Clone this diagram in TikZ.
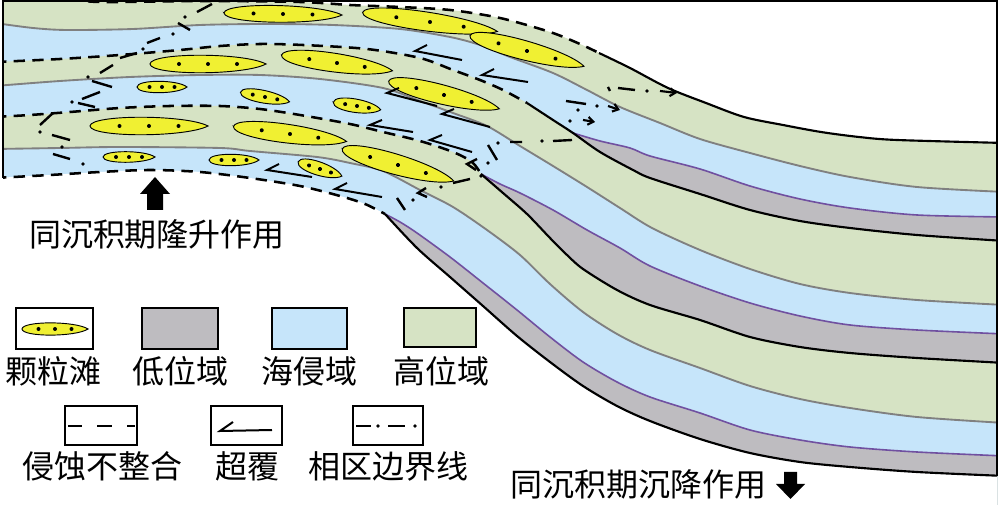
\documentclass[tikz,border=0pt]{standalone}
\usepackage{fontspec}
\newfontfamily\cjk{Noto Sans CJK SC}
\usetikzlibrary{arrows.meta}
\definecolor{hstc}{RGB}{214,227,196}
\definecolor{tstc}{RGB}{198,229,250}
\definecolor{lstc}{RGB}{190,188,192}
\definecolor{shoalc}{RGB}{240,240,50}
\definecolor{tsline}{RGB}{112,80,160}
\definecolor{mfsline}{RGB}{128,128,128}
% top surface
\def\pTa{plot[smooth] coordinates {(-5,-5) (60,-2) (100,2) (200,1) (300,2) (350,5) (400,7) (450,10) (500,18) (550,32) (580,44) (599,53)}}
\def\pTb{-- plot[smooth] coordinates {(599,53) (630,68) (668,88) (706,103) (744,117) (783,125) (821,132) (859,137) (897,140) (1005,143)}}
% mfs lines
\def\pGc{plot[smooth] coordinates {(-5,23) (33,28) (67,30) (133,29) (200,25) (267,24) (333,25) (400,29) (450,37) (480,45) (510,57) (553,73) (587,90) (620,107) (660,123) (700,139) (750,153) (800,166) (850,177) (917,187) (1005,192)}}
\def\pGb{plot[smooth] coordinates {(-5,86) (60,81) (130,77) (200,75) (260,75) (320,79) (383,88) (420,101) (453,113) (487,126) (520,146) (553,166) (587,187) (620,208) (652,228) (700,250) (750,269) (800,284) (850,293) (917,300) (1005,305)}}
\def\pGa{plot[smooth] coordinates {(-5,149) (60,148) (120,147) (220,148) (250,151) (317,157) (350,163) (383,171) (420,190) (453,207) (487,230) (520,255) (550,284) (583,312) (617,334) (650,350) (700,368) (750,386) (800,399) (850,408) (917,417) (1005,423)}}
% transgressive surfaces
\def\pPc{plot[smooth] coordinates {(573,133) (600,141) (630,148) (650,156) (700,169) (750,186) (800,199) (850,208) (917,215) (1005,217)}}
\def\pPb{plot[smooth] coordinates {(481,174) (500,184) (520,193) (553,210) (587,230) (620,248) (650,266) (700,286) (750,303) (800,316) (850,325) (917,330) (1005,334)}}
\def\pPa{plot[smooth] coordinates {(385,214) (400,222) (417,233) (450,257) (483,283) (517,310) (550,337) (583,362) (617,382) (650,397) (700,413) (750,430) (800,440) (850,447) (917,452) (1005,456)}}
% sequence boundaries
\def\pSca{plot[smooth] coordinates {(-5,62) (60,59) (120,55) (180,50) (220,46) (260,44) (303,45) (367,49) (420,58) (453,70) (480,80) (503,90) (527,103)}}
\def\pScb{-- plot[smooth] coordinates {(527,103) (553,120) (573,133) (600,152) (633,170) (650,178) (700,194) (750,210) (800,221) (850,228) (917,235) (1005,241)}}
\def\pSba{plot[smooth] coordinates {(-5,117) (30,115) (70,112) (120,108) (170,106) (220,106) (260,109) (300,115) (350,124) (383,132) (420,141) (453,152) (472,162) (481,174)}}
\def\pSbb{-- plot[smooth] coordinates {(481,174) (503,193) (527,214) (550,238) (567,255) (583,269) (617,290) (650,305) (700,320) (750,337) (800,347) (850,353) (917,358) (1005,363)}}
\def\pSaa{plot[smooth] coordinates {(-5,178) (50,175) (100,172) (150,170) (200,172) (250,178) (300,186) (340,196) (365,204) (385,214)}}
\def\pSab{-- plot[smooth] coordinates {(385,214) (417,248) (450,277) (483,306) (517,336) (550,362) (583,386) (617,406) (650,421) (700,439) (750,453) (800,462) (850,467) (917,472) (1005,476)}}
% grain shoal: centre x, centre y, half length, half thickness, angle
\newcommand\shoalE[5]{%
  \begin{scope}[rotate around={#5:(#1,#2)}]
  \draw[shoalst] ({#1-#3},#2) .. controls ({#1-0.99*#3},{#2-1.36*#4}) and ({#1+0.62*#3},{#2-1.36*#4}) .. ({#1+#3},#2)
     .. controls ({#1+0.62*#3},{#2+1.36*#4}) and ({#1-0.99*#3},{#2+1.36*#4}) .. cycle;
  \fill ({#1-0.5*#3},#2) circle[radius=2] (#1,#2) circle[radius=2] ({#1+0.5*#3},#2) circle[radius=2];
  \end{scope}}
\newcommand\onlapE[3]{\draw[onl] (#3) -- (#1) -- (#2);}
\newcommand\dotE[1]{\fill (#1) circle[radius=1.9];}
\begin{document}
\begin{tikzpicture}[x=0.75pt,y=-0.75pt,
  sbsolid/.style={draw=black,line width=1.6pt},
  sbdash/.style={draw=black,line width=1.9pt,dash pattern=on 8.5pt off 5.5pt},
  mfsl/.style={draw=mfsline,line width=1.4pt},
  tsl/.style={draw=tsline,line width=1.2pt},
  shoalst/.style={draw=black,line width=0.7pt,fill=shoalc},
  fac/.style={draw=black,line width=1.8pt},
  facarr/.style={draw=black,line width=1.6pt,-{Straight Barb[length=4pt,width=6pt]}},
  onl/.style={draw=black,line width=1.5pt,line join=miter},
  legbox/.style={draw=black,line width=1.3pt},
  lab/.style={font=\cjk\fontsize{24}{28}\selectfont,inner sep=0pt}]
\useasboundingbox (0,0) rectangle (1000,505);
\fill[white] (0,0) rectangle (1000,505);
\begin{scope}
\clip (3,0) rectangle (997,520);
\fill[hstc] \pTa \pTb -- (1005,520) -- (-5,520) -- cycle;
\fill[tstc] \pGc -- (1005,520) -- (-5,520) -- cycle;
\fill[lstc] \pPc -- (1005,520) -- (573,520) -- cycle;
\fill[hstc] \pSca \pScb -- (1005,520) -- (-5,520) -- cycle;
\fill[tstc] \pGb -- (1005,520) -- (-5,520) -- cycle;
\fill[lstc] \pPb -- (1005,520) -- (481,520) -- cycle;
\fill[hstc] \pSba \pSbb -- (1005,520) -- (-5,520) -- cycle;
\fill[tstc] \pGa -- (1005,520) -- (-5,520) -- cycle;
\fill[lstc] \pPa -- (1005,520) -- (385,520) -- cycle;
\fill[white] \pSaa \pSab -- (1005,520) -- (-5,520) -- cycle;
% lines
\draw[mfsl] \pGc; \draw[mfsl] \pGb; \draw[mfsl] \pGa;
\draw[tsl] \pPc; \draw[tsl] \pPb; \draw[tsl] \pPa;
\draw[sbdash] \pTa; \draw[sbsolid] (599,53) \pTb;
\draw[sbdash] \pSca; \draw[sbsolid] (527,103) \pScb;
\draw[sbdash] \pSba; \draw[sbsolid] (481,174) \pSbb;
\draw[sbdash] \pSaa; \draw[sbsolid] (385,214) \pSab;
% grain shoals
\shoalE{283}{14}{59}{8.2}{-1}
\shoalE{430}{22}{68}{9.3}{-8}
\shoalE{527}{51}{59}{9.5}{-15}
\shoalE{208}{64}{58}{8.6}{0}
\shoalE{337}{63}{56}{9.2}{-8}
\shoalE{444}{95}{57}{9.5}{-14}
\shoalE{162}{87}{25}{5.6}{0}
\shoalE{265}{97}{25}{6.2}{-11}
\shoalE{357}{106}{24}{6.6}{-9}
\shoalE{149}{126}{59}{8.6}{0}
\shoalE{290}{134}{57}{9.2}{-7.5}
\shoalE{398}{165}{58}{10}{-16}
\shoalE{129}{157}{26}{5.2}{0}
\shoalE{234}{160}{25}{5.6}{0}
\shoalE{320}{169}{23}{6.6}{-18}
% onlaps
\onlapE{415,51}{462,60}{427,45}
\onlapE{482,75}{528,82}{494,69}
\onlapE{387,93}{437,106}{399,88}
\onlapE{442,114}{490,127}{454,109}
\onlapE{370,125}{413,132}{382,120}
\onlapE{430,140}{472,152}{442,135}
\onlapE{267,170}{312,177}{279,164}
\onlapE{335,189}{382,197}{347,183}
% facies boundary, left
\draw[fac] (212,4)--(197,12) (178,23)--(190,30) (160,38)--(147,43) (137,53)--(120,58)
  (113,65)--(100,73) (92,81)--(112,87) (100,92)--(82,99) (78,103)--(95,107)
  (53,113)--(40,125) (52,135)--(70,140) (53,154)--(70,159);
\dotE{185,17}\dotE{173,34}\dotE{143,49}\dotE{88,77}\dotE{72,102}\dotE{40,132}\dotE{62,147}\dotE{83,164}
% facies boundary, sequence 1
\draw[fac] (397,198)--(405,210) (453,183)--(470,179);
\draw[fac] (426,188)--(418,193)--(427,197);
\dotE{413,200}\dotE{441,187}\dotE{481,176}
% facies boundary, sequence 2
\draw[fac] (477,159)--(467,164)--(476,170);
\draw[fac] (488,145)--(497,160) (510,142)--(522,142) (553,141)--(572,140);
\dotE{488,163}\dotE{498,143}\dotE{542,141}
% facies boundary, sequence 3
\draw[fac] (608,87)--(610,91) (618,88)--(635,90) (566,101)--(586,104);
\dotE{647,91}\dotE{597,106}\dotE{578,110}\dotE{570,121}
\draw[facarr] (660,91)--(677,93);
\draw[facarr] (608,106)--(620,110);
\draw[facarr] (583,120)--(595,122);
\end{scope}
% frame
\draw[line width=1pt] (3,178) -- (3,1) -- (997,1) -- (997,476);
% arrows and captions
\fill (155,177) -- (170,194) -- (163,194) -- (163,210) -- (147,210) -- (147,194) -- (140,194) -- cycle;
\node[lab] (uplift) at (157,234) {同沉积期隆升作用};
\node[lab] (subs) at (638,484) {同沉积期沉降作用};
\fill (790.5,499) -- (805,484) -- (797,484) -- (797,472) -- (784,472) -- (784,484) -- (776,484) -- cycle;
% legend
\draw[legbox,fill=white] (16,308) rectangle (93,349);
\shoalE{55}{329}{33}{6}{0}
\draw[legbox,fill=lstc] (142,308) rectangle (218,349);
\draw[legbox,fill=tstc] (272,308) rectangle (347,349);
\draw[legbox,fill=hstc] (404,308) rectangle (476,347);
\node[lab] (lg1) at (54,371) {颗粒滩};
\node[lab] (lg2) at (180,371) {低位域};
\node[lab] (lg3) at (309,371) {海侵域};
\node[lab] (lg4) at (441,371) {高位域};
\draw[legbox] (65,406) rectangle (137,445);
\draw[fac] (68,426)--(82,426) (97,426)--(112,426) (127,426)--(135,426);
\draw[legbox] (211,406) rectangle (282,445);
\draw[onl] (233,422)--(220,431)--(272,430);
\draw[legbox] (353,406) rectangle (423,445);
\draw[fac] (356,426)--(371,426) (388,426)--(405,426);
\dotE{378,426}\dotE{415,426}
\node[lab] (lg5) at (102,466) {侵蚀不整合};
\node[lab] (lg6) at (247,466) {超覆};
\node[lab] (lg7) at (388,466) {相区边界线};
\end{tikzpicture}
\end{document}
